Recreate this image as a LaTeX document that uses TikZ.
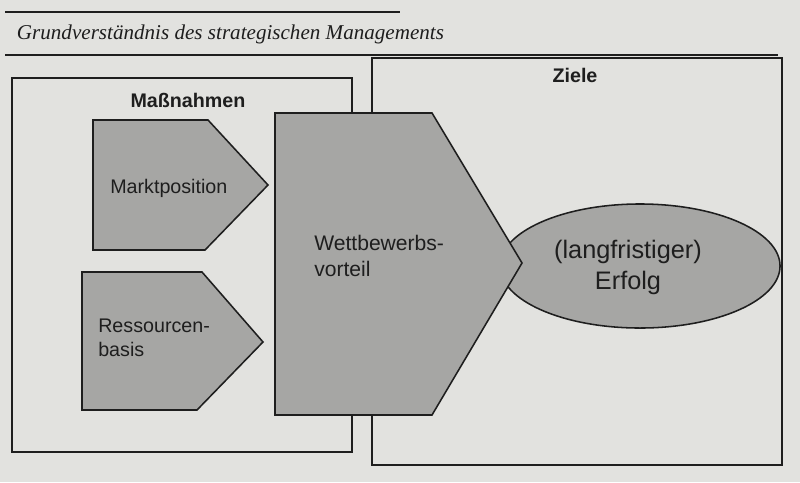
\documentclass[tikz,border=0pt]{standalone}
\usepackage{fontspec}
\setmainfont{Liberation Serif}
\setsansfont{Liberation Sans}
\usetikzlibrary{shapes.geometric}

\definecolor{paper}{RGB}{226,226,223}
\definecolor{shade}{RGB}{166,166,164}
\definecolor{ink}{RGB}{30,30,30}

\begin{document}
\begin{tikzpicture}[x=0.025cm,y=-0.025cm,
	frame/.style={draw=ink,line width=1.4pt},
	block/.style={draw=ink,fill=shade,line width=1.1pt,line join=miter},
	txt/.style={font=\sffamily\fontsize{14}{17}\selectfont,text=ink,inner sep=0pt},
	heading/.style={txt,font=\sffamily\bfseries\fontsize{14}{17}\selectfont}]
	\fill[paper] (0,0) rectangle (800,482);
	\useasboundingbox (0,0) rectangle (800,482);

	% title between the rules
	\draw[frame] (5,12) -- (400,12);
	\draw (12,34) node (title) [anchor=west,text=ink,font=\itshape\fontsize{15}{18}\selectfont] {Grundverständnis des strategischen Managements};
	\draw[frame] (5,55) -- (778,55);

	% the two frames
	\draw[frame] (12,78) rectangle (352,452);
	\draw[frame] (372,58) rectangle (782,465);
	\draw (188,100) node (massn) [heading] {Maßnahmen};
	\draw (575,75) node (ziele) [heading] {Ziele};

	% goal, lies behind the big arrow
	\draw (640,266) node (erfolg) [ellipse,block,minimum width=7cm,minimum height=3.1cm] {};
	\draw (628,267) node (erfolgtxt) [txt,align=center,font=\sffamily\fontsize{18}{22}\selectfont] {(langfristiger)\\Erfolg};

	% arrows
	\draw[block] (93,120) -- (208,120) -- (268,185) -- (205,250) -- (93,250) -- cycle;
	\draw[block] (82,272) -- (202,272) -- (263,342) -- (197,410) -- (82,410) -- cycle;
	\draw[block] (275,113) -- (432,113) -- (522,263) -- (432,415) -- (275,415) -- cycle;

	\draw (110,188) node (markt) [txt,anchor=west] {Marktposition};
	\draw (98,338) node (ress) [txt,anchor=west,align=left] {Ressourcen-\\basis};
	\draw (314,256) node (wett) [txt,anchor=west,align=left,font=\sffamily\fontsize{15}{18}\selectfont] {Wettbewerbs-\\vorteil};
\end{tikzpicture}
\end{document}
